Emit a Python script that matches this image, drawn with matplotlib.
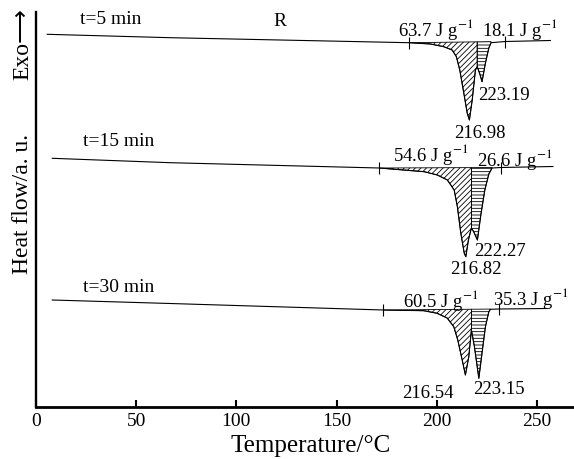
import numpy as np
import matplotlib
matplotlib.use("Agg")
import matplotlib.pyplot as plt

plt.rcParams['font.family'] = ['Liberation Serif', 'DejaVu Serif']
plt.rcParams['mathtext.fontset'] = 'stix'
plt.rcParams['hatch.linewidth'] = 0.6

# DSC traces (temperature in degC, heat flow in a.u.)
t5_T = [5.6, 67, 186, 196.9, 203.5, 207.7, 209.8, 211.5, 213.5, 215.2, 216.3, 217.7,
        219.3, 220.2, 221.5, 222.6, 224.3, 226, 227.1, 234.3, 256.7]
t5_hf = [37.27, 36.93, 36.43, 36.30, 36.03, 35.70, 35.03, 33.70, 31.40, 29.40, 28.70, 30.70,
         33.70, 34.03, 33.30, 32.53, 34.40, 35.90, 36.43, 36.55, 36.65]

t15_T = [8.1, 67, 171.3, 193.7, 200.3, 205.3, 208.7, 210.3, 212, 213.7, 214.5, 215.8,
         217.3, 218.5, 220.3, 222, 224, 226, 227.6, 232, 258]
t15_hf = [24.87, 24.43, 23.90, 23.53, 23.20, 22.70, 21.70, 20.03, 17.40, 15.40, 15.03, 16.70,
          17.90, 17.50, 16.70, 19.20, 21.70, 23.30, 23.90, 23.95, 24.05]

t30_T = [8.1, 67, 173.3, 193.5, 200.2, 205.2, 208.5, 210.5, 212.7, 214.3, 216, 217.3,
         218.8, 221, 222.6, 224.3, 226, 226.8, 230.9, 255]
t30_hf = [10.70, 10.35, 9.70, 9.63, 9.37, 8.90, 8.03, 6.70, 4.70, 3.20, 5.03, 7.70,
          6.03, 2.87, 5.40, 8.03, 9.53, 9.77, 9.80, 9.85]

# integration limits: start, split between the two peaks, end of peak, end marker
t5_lim = [186, 220.2, 227.1, 234.3]
t15_lim = [171.3, 217.3, 227.6, 232]
t30_lim = [173.3, 217.3, 226.8, 230.9]

curves = [
    (t5_T, t5_hf, t5_lim),
    (t15_T, t15_hf, t15_lim),
    (t30_T, t30_hf, t30_lim),
]

fig = plt.figure(figsize=(5.74, 4.59), dpi=100)
ax = fig.add_axes([36/574, 52/459, 538/574, 395/459])

for T, hf, lim in curves:
    T = np.array(T)
    hf = np.array(hf)
    ax.plot(T, hf, color='black', lw=0.8)
    y_start = np.interp(lim[0], T, hf)
    y_end = np.interp(lim[3], T, hf)
    base = np.interp(T, [lim[0], lim[3]], [y_start, y_end])
    m1 = (T >= lim[0]) & (T <= lim[1])
    m2 = (T >= lim[1]) & (T <= lim[2])
    ax.fill_between(T[m1], hf[m1], base[m1], facecolor='none', edgecolor='black',
                    hatch='//////', lw=0.6)
    ax.fill_between(T[m2], hf[m2], base[m2], facecolor='none', edgecolor='black',
                    hatch='-----', lw=0.6)
    ax.plot([lim[0], lim[3]], [y_start, y_end], ls='none', marker='|',
            ms=8, mew=0.8, color='black')

# labels
fs = 13.5
ax.text(22.2, 38.7, "t=5 min", fontsize=14, va='center')
ax.text(121.5, 38.5, "R", fontsize=14, ha='center', va='center')
ax.text(23.7, 26.5, "t=15 min", fontsize=14, va='center')
ax.text(23.7, 11.9, "t=30 min", fontsize=14, va='center')

ax.text(180.5, 37.1, "63.7 J g$^{-1}$", fontsize=fs, va='baseline')
ax.text(222.8, 37.1, "18.1 J g$^{-1}$", fontsize=fs, va='baseline')
ax.text(220.8, 31.1, "223.19", fontsize=fs, va='center')
ax.text(221.3, 27.4, "216.98", fontsize=fs, ha='center', va='center')

ax.text(178.4, 24.63, "54.6 J g$^{-1}$", fontsize=fs, va='baseline')
ax.text(220.3, 24.1, "26.6 J g$^{-1}$", fontsize=fs, va='baseline')
ax.text(218.8, 15.6, "222.27", fontsize=fs, va='center')
ax.text(219.3, 13.7, "216.82", fontsize=fs, ha='center', va='center')

ax.text(183.4, 9.97, "60.5 J g$^{-1}$", fontsize=fs, va='baseline')
ax.text(228.3, 10.2, "35.3 J g$^{-1}$", fontsize=fs, va='baseline')
ax.text(195.6, 1.4, "216.54", fontsize=fs, ha='center', va='center')
ax.text(230.8, 1.7, "223.15", fontsize=fs, ha='center', va='center')

ax.set_xlim(0, 268.5)
ax.set_ylim(0, 39.5)
ax.set_xticks([0, 50, 100, 150, 200, 250])
ax.set_yticks([])
ax.tick_params(axis='x', direction='in', length=5, width=1.5, labelsize=14, pad=4)
for s in ['top', 'right']:
    ax.spines[s].set_visible(False)
ax.spines['left'].set_linewidth(1.7)
ax.spines['bottom'].set_linewidth(2)
ax.set_xlabel("Temperature/°C", fontsize=18, labelpad=0)
ax.xaxis.set_label_coords(0.51, -0.072)

fig.text(22.5/574, (459-204)/459, "Heat flow/a. u.", rotation=90, fontsize=17,
         ha='center', va='center')
fig.text(22.5/574, (459-44)/459, "Exo\u27f6", rotation=90, fontsize=17,
         ha='center', va='center',
         family=['Liberation Serif', 'DejaVu Sans'])

fig.savefig("out.png", dpi=100)
